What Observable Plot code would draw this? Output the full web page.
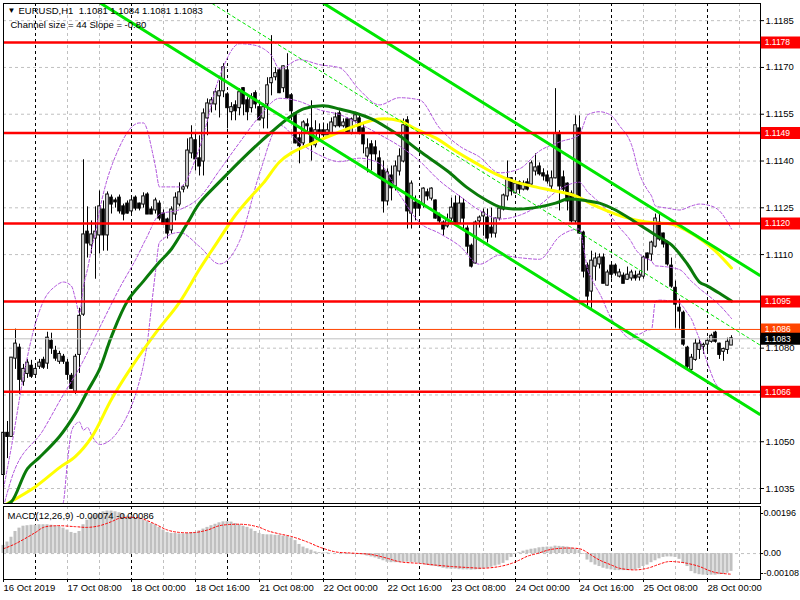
<!DOCTYPE html>
<html>
<head>
<meta charset="utf-8">
<script src="https://cdn.jsdelivr.net/npm/d3@7"></script>
<script src="https://cdn.jsdelivr.net/npm/@observablehq/plot@0.6"></script>
<style>
  html, body { margin: 0; padding: 0; background: #ffffff; }
  #chart { position: relative; width: 800px; height: 600px; overflow: hidden; background: #ffffff; }
  #chart svg { position: absolute; left: 0; }
</style>
</head>
<body>
<div id="chart"></div>
<script>
// ---------- DATA (EURUSD H1, bar index 0 = 16 Oct 2019 16:00) ----------
const opens = [1.10395,1.10527,1.10517,1.10768,1.10800,1.10694,1.10719,1.10742,1.10716,1.10742,
1.10761,1.10752,1.10822,1.10790,1.10758,1.10771,1.10752,1.10710,1.10662,1.10780,
1.10909,1.11172,1.11131,1.11153,1.11163,1.11243,1.11163,1.11281,1.11272,1.11281,
1.11253,1.11262,1.11240,1.11281,1.11262,1.11262,1.11291,1.11243,1.11243,1.11262,
1.11230,1.11211,1.11179,1.11230,1.11262,1.11310,1.11320,1.11426,1.11465,1.11407,
1.11400,1.11538,1.11583,1.11583,1.11609,1.11625,1.11612,1.11558,1.11577,1.11571,
1.11632,1.11593,1.11571,1.11616,1.11571,1.11538,1.11583,1.11651,1.11670,1.11689,
1.11635,1.11689,1.11609,1.11551,1.11471,1.11458,1.11516,1.11503,1.11452,1.11497,
1.11497,1.11484,1.11487,1.11513,1.11551,1.11513,1.11532,1.11490,1.11529,1.11535,
1.11503,1.11416,1.11452,1.11442,1.11407,1.11368,1.11272,1.11352,1.11320,1.11368,
1.11400,1.11529,1.11233,1.11265,1.11262,1.11262,1.11298,1.11281,1.11272,1.11224,
1.11201,1.11192,1.11217,1.11262,1.11201,1.11262,1.11182,1.11127,1.11073,1.11208,
1.11224,1.11217,1.11185,1.11169,1.11217,1.11246,1.11288,1.11343,1.11298,1.11330,
1.11310,1.11330,1.11326,1.11368,1.11381,1.11359,1.11352,1.11320,1.11346,1.11487,
1.11346,1.11326,1.11294,1.11208,1.11503,1.11169,1.11063,1.10983,1.11063,1.11070,
1.11089,1.11002,1.11063,1.11063,1.11031,1.11031,1.11021,1.11025,1.11031,1.11028,
1.11031,1.11102,1.11102,1.11127,1.11201,1.11166,1.11137,1.11063,1.10992,1.10928,
1.10912,1.10800,1.10732,1.10764,1.10796,1.10806,1.10813,1.10822,1.10848,1.10813,
1.10790,1.10796,1.10810];
const highs = [1.10533,1.10565,1.10768,1.10861,1.10813,1.10748,1.10764,1.10761,1.10748,1.10764,
1.10771,1.10851,1.10848,1.10806,1.10790,1.10780,1.10764,1.10719,1.10780,1.10928,
1.11404,1.11253,1.11208,1.11253,1.11304,1.11272,1.11301,1.11291,1.11281,1.11291,
1.11262,1.11272,1.11281,1.11288,1.11265,1.11298,1.11298,1.11253,1.11281,1.11272,
1.11243,1.11217,1.11253,1.11298,1.11330,1.11320,1.11471,1.11513,1.11487,1.11481,
1.11567,1.11599,1.11603,1.11632,1.11657,1.11712,1.11619,1.11587,1.11593,1.11632,
1.11635,1.11603,1.11616,1.11625,1.11593,1.11583,1.11667,1.11802,1.11699,1.11696,
1.11705,1.11744,1.11616,1.11554,1.11487,1.11529,1.11535,1.11593,1.11529,1.11519,
1.11522,1.11519,1.11538,1.11554,1.11561,1.11535,1.11538,1.11538,1.11551,1.11545,
1.11519,1.11471,1.11465,1.11465,1.11432,1.11400,1.11375,1.11384,1.11400,1.11439,
1.11535,1.11542,1.11336,1.11288,1.11272,1.11314,1.11310,1.11314,1.11275,1.11233,
1.11208,1.11230,1.11281,1.11288,1.11288,1.11278,1.11192,1.11134,1.11208,1.11224,
1.11246,1.11246,1.11249,1.11217,1.11249,1.11294,1.11400,1.11346,1.11336,1.11336,
1.11336,1.11343,1.11400,1.11423,1.11394,1.11375,1.11368,1.11368,1.11632,1.11497,
1.11368,1.11330,1.11304,1.11545,1.11545,1.11175,1.11073,1.11111,1.11105,1.11102,
1.11102,1.11050,1.11070,1.11070,1.11053,1.11041,1.11060,1.11050,1.11047,1.11047,
1.11095,1.11105,1.11143,1.11230,1.11230,1.11169,1.11143,1.11089,1.11015,1.10957,
1.10919,1.10806,1.10780,1.10829,1.10829,1.10816,1.10832,1.10845,1.10854,1.10816,
1.10800,1.10832,1.10840];
const lows = [1.10385,1.10446,1.10517,1.10732,1.10652,1.10678,1.10703,1.10703,1.10710,1.10732,
1.10732,1.10732,1.10780,1.10758,1.10748,1.10748,1.10697,1.10668,1.10652,1.10719,
1.10902,1.11089,1.11102,1.11021,1.11102,1.11111,1.11111,1.11230,1.11249,1.11230,
1.11208,1.11230,1.11230,1.11240,1.11240,1.11249,1.11230,1.11230,1.11230,1.11208,
1.11198,1.11150,1.11166,1.11208,1.11253,1.11298,1.11310,1.11407,1.11368,1.11352,
1.11352,1.11481,1.11554,1.11561,1.11538,1.11603,1.11503,1.11529,1.11529,1.11545,
1.11545,1.11529,1.11554,1.11567,1.11529,1.11503,1.11503,1.11609,1.11657,1.11616,
1.11619,1.11599,1.11529,1.11455,1.11391,1.11449,1.11490,1.11400,1.11442,1.11471,
1.11465,1.11481,1.11481,1.11506,1.11506,1.11506,1.11487,1.11484,1.11522,1.11484,
1.11423,1.11362,1.11368,1.11400,1.11343,1.11233,1.11256,1.11272,1.11304,1.11352,
1.11394,1.11182,1.11182,1.11208,1.11224,1.11249,1.11272,1.11272,1.11214,1.11198,
1.11159,1.11185,1.11198,1.11198,1.11198,1.11175,1.11102,1.11057,1.11070,1.11185,
1.11159,1.11137,1.11153,1.11153,1.11208,1.11240,1.11272,1.11288,1.11294,1.11294,
1.11304,1.11304,1.11320,1.11352,1.11352,1.11336,1.11326,1.11304,1.11343,1.11240,
1.11298,1.11240,1.11201,1.11198,1.11166,1.11025,1.10928,1.10928,1.11015,1.11054,
1.11008,1.10999,1.11021,1.11031,1.11025,1.11008,1.11018,1.11015,1.11015,1.11015,
1.11021,1.11047,1.11079,1.11121,1.11143,1.11121,1.11063,1.10992,1.10864,1.10861,
1.10806,1.10732,1.10726,1.10758,1.10764,1.10780,1.10780,1.10816,1.10816,1.10764,
1.10758,1.10780,1.10810];
const closes = [1.10527,1.10517,1.10768,1.10813,1.10700,1.10732,1.10752,1.10710,1.10732,1.10752,
1.10739,1.10832,1.10800,1.10768,1.10780,1.10758,1.10716,1.10671,1.10771,1.10902,
1.11163,1.11137,1.11163,1.11172,1.11253,1.11163,1.11291,1.11262,1.11269,1.11240,
1.11230,1.11233,1.11272,1.11249,1.11249,1.11285,1.11230,1.11230,1.11272,1.11217,
1.11198,1.11169,1.11243,1.11281,1.11298,1.11314,1.11432,1.11471,1.11407,1.11384,
1.11551,1.11583,1.11593,1.11619,1.11622,1.11699,1.11571,1.11571,1.11561,1.11619,
1.11583,1.11558,1.11603,1.11583,1.11532,1.11571,1.11641,1.11664,1.11680,1.11619,
1.11702,1.11603,1.11561,1.11458,1.11449,1.11522,1.11513,1.11458,1.11497,1.11493,
1.11484,1.11497,1.11522,1.11538,1.11513,1.11522,1.11490,1.11532,1.11545,1.11490,
1.11455,1.11439,1.11423,1.11423,1.11352,1.11272,1.11362,1.11314,1.11381,1.11413,
1.11513,1.11240,1.11326,1.11249,1.11249,1.11310,1.11288,1.11310,1.11217,1.11208,
1.11182,1.11208,1.11249,1.11198,1.11262,1.11217,1.11127,1.11063,1.11201,1.11217,
1.11233,1.11153,1.11169,1.11214,1.11246,1.11288,1.11343,1.11304,1.11326,1.11310,
1.11326,1.11310,1.11391,1.11378,1.11359,1.11352,1.11336,1.11343,1.11487,1.11320,
1.11310,1.11272,1.11208,1.11513,1.11169,1.11047,1.10967,1.11079,1.11086,1.11089,
1.11008,1.11041,1.11037,1.11041,1.11041,1.11008,1.11034,1.11041,1.11025,1.11034,
1.11089,1.11089,1.11137,1.11214,1.11150,1.11134,1.11070,1.10999,1.10941,1.10919,
1.10813,1.10742,1.10768,1.10813,1.10813,1.10809,1.10822,1.10838,1.10822,1.10780,
1.10796,1.10819,1.10830];

// Moving averages (bar index, price)
const maGreenIdx = [0,2,6,9,14,18,21,24,27,31,35,39,42,46,49,54,61,67,72,75,80,84,88,92,96,99,104,111,116,121,124,129,134,138,141,146,149,153,158,163,167,171,174,176,179,182];
const maGreenVal = [1.10295,1.10308,1.10414,1.10450,1.10517,1.10591,1.10662,1.10732,1.10838,1.10951,1.11015,1.11076,1.11118,1.11201,1.11265,1.11333,1.11423,1.11493,1.11545,1.11567,1.11577,1.11567,1.11554,1.11535,1.11506,1.11481,1.11432,1.11368,1.11314,1.11272,1.11253,1.11246,1.11253,1.11265,1.11278,1.11272,1.11265,1.11243,1.11204,1.11163,1.11131,1.11069,1.11012,1.10999,1.10976,1.10951];
const maYellowIdx = [0,8,14,18,22,27,32,38,44,49,53,58,62,65,69,72,78,84,90,94,99,103,108,113,118,123,128,133,138,143,148,153,158,163,167,171,175,178,182];
const maYellowVal = [1.10295,1.10356,1.10417,1.10453,1.10514,1.10636,1.10739,1.10848,1.10947,1.11053,1.11131,1.11227,1.11288,1.11330,1.11397,1.11426,1.11461,1.11493,1.11522,1.11535,1.11529,1.11503,1.11474,1.11432,1.11394,1.11359,1.11333,1.11317,1.11304,1.11288,1.11256,1.11230,1.11211,1.11201,1.11198,1.11175,1.11143,1.11111,1.11057];

// Bands (purple dashed): upper, middle, lower (bar index, price)
const bandUpperIdx = [0,2,5,8,10,13,15,17,18,19,20,21,22,23,24,29,34,35,36,37,38,39,44,49,54,59,62,65,67,69,74,79,84,89,94,99,104,109,114,119,124,129,134,139,144,145,146,149,152,154,157,159,161,162,163,166,169,172,174,176,179,182];
const bandUpperVal = [1.10350,1.10485,1.10710,1.10880,1.10951,1.10999,1.11012,1.10999,1.10957,1.10912,1.10999,1.11053,1.11118,1.11172,1.11240,1.11445,1.11522,1.11522,1.11497,1.11442,1.11381,1.11317,1.11317,1.11442,1.11670,1.11776,1.11773,1.11760,1.11738,1.11696,1.11725,1.11709,1.11699,1.11628,1.11580,1.11603,1.11596,1.11506,1.11448,1.11413,1.11362,1.11375,1.11432,1.11461,1.11484,1.11516,1.11548,1.11558,1.11545,1.11513,1.11452,1.11359,1.11307,1.11288,1.11256,1.11249,1.11243,1.11256,1.11262,1.11259,1.11240,1.11182];
const bandMidIdx = [0,2,10,15,19,24,29,34,35,36,37,38,39,44,49,54,59,64,69,74,79,84,89,94,99,104,109,114,119,124,129,134,139,144,145,146,147,148,149,152,154,157,158,159,160,162,163,164,169,170,171,172,173,174,176,179,182];
const bandMidVal = [1.10292,1.10382,1.10539,1.10652,1.10737,1.10865,1.10992,1.11108,1.11135,1.11160,1.11188,1.11213,1.11229,1.11244,1.11283,1.11370,1.11459,1.11543,1.11601,1.11591,1.11564,1.11549,1.11519,1.11485,1.11448,1.11400,1.11337,1.11288,1.11242,1.11214,1.11226,1.11259,1.11309,1.11332,1.11320,1.11301,1.11290,1.11278,1.11267,1.11220,1.11187,1.11140,1.11117,1.11102,1.11091,1.11079,1.11064,1.11063,1.11052,1.11043,1.11028,1.11014,1.11003,1.10991,1.10971,1.10938,1.10895];
const bandLowerIdx = [13,15,16,17,18,19,20,21,22,23,24,29,34,35,36,37,38,39,44,49,54,59,64,69,74,79,84,89,94,99,104,109,114,119,124,129,134,139,144,145,146,147,148,149,152,154,157,158,159,160,161,162,163,164,169,170,171,172,173,174,176,178,180,182];
const bandLowerVal = [1.10244,1.10308,1.10437,1.10533,1.10556,1.10563,1.10537,1.10546,1.10521,1.10502,1.10491,1.10540,1.10695,1.10747,1.10822,1.10935,1.11045,1.11140,1.11171,1.11126,1.11070,1.11143,1.11359,1.11515,1.11459,1.11419,1.11398,1.11409,1.11392,1.11293,1.11203,1.11168,1.11128,1.11069,1.11098,1.11090,1.11085,1.11158,1.11182,1.11125,1.11053,1.11024,1.10998,1.10976,1.10894,1.10862,1.10828,1.10845,1.10845,1.10852,1.10858,1.10860,1.10951,1.10954,1.10944,1.10931,1.10912,1.10893,1.10861,1.10829,1.10752,1.10687,1.10662,1.10649];

// Regression channel (size 44 pips, slope -0.80 pip/bar), end points
const channelIdx = [0, 189];
const channelUpper = [1.12546, 1.11034];
const channelMid = [1.12322, 1.10811];
const channelLower = [1.12100, 1.10588];

// Horizontal levels
const redLevels = [1.1178, 1.1149, 1.1120, 1.1095, 1.1066];
const orangeLevel = [1.1086];
const bidLevel = [1.1083];

// Axis ticks
const priceGrid = [1.1035,1.1050,1.1065,1.1080,1.1095,1.1110,1.1125,1.1140,1.1155,1.1170,1.1185];
const priceLabels = [1.1035,1.1050,1.1080,1.1110,1.1125,1.1140,1.1155,1.1170,1.1185];
const timeTicks = [0,16,32,48,64,80,96,112,128,144,160,176];
const timeLabels = ["16 Oct 2019","17 Oct 08:00","18 Oct 00:00","18 Oct 16:00","21 Oct 08:00","22 Oct 00:00","22 Oct 16:00","23 Oct 08:00","24 Oct 00:00","24 Oct 16:00","25 Oct 08:00","28 Oct 00:00"];
const gridBars = [8,16,24,32,40,48,56,64,72,80,88,96,104,112,120,128,136,144,152,160,168,176,184];
const daySeparators = [8,32,56,80,104,128,152,176];

// MACD(12,26,9)
const macdMain = [0.00034,0.00048,0.00068,0.00092,0.00106,0.00114,0.00116,0.00118,0.00118,0.00120,
0.00120,0.00120,0.00118,0.00114,0.00112,0.00106,0.00098,0.00088,0.00084,0.00092,
0.00120,0.00139,0.00152,0.00160,0.00166,0.00174,0.00177,0.00177,0.00174,0.00170,
0.00163,0.00156,0.00152,0.00147,0.00143,0.00139,0.00133,0.00125,0.00120,0.00109,
0.00098,0.00088,0.00084,0.00084,0.00082,0.00082,0.00084,0.00087,0.00088,0.00095,
0.00102,0.00109,0.00116,0.00122,0.00128,0.00132,0.00133,0.00131,0.00125,0.00120,
0.00114,0.00109,0.00102,0.00092,0.00084,0.00079,0.00078,0.00078,0.00076,0.00076,
0.00073,0.00071,0.00065,0.00054,0.00038,0.00027,0.00020,0.00014,0.00007,0.00004,
0.00003,0.00003,0.00001,0.00000,0.00000,-0.00001,-0.00001,-0.00001,-0.00001,-0.00003,
-0.00005,-0.00010,-0.00014,-0.00018,-0.00024,-0.00030,-0.00036,-0.00038,-0.00038,-0.00038,
-0.00036,-0.00036,-0.00037,-0.00038,-0.00041,-0.00045,-0.00049,-0.00052,-0.00054,-0.00057,
-0.00061,-0.00064,-0.00065,-0.00065,-0.00067,-0.00068,-0.00068,-0.00069,-0.00068,-0.00067,
-0.00064,-0.00061,-0.00057,-0.00052,-0.00048,-0.00041,-0.00030,-0.00016,-0.00003,0.00004,
0.00010,0.00014,0.00018,0.00020,0.00024,0.00026,0.00027,0.00027,0.00031,0.00030,
0.00029,0.00027,0.00024,0.00019,0.00014,-0.00003,-0.00027,-0.00038,-0.00048,-0.00054,
-0.00061,-0.00065,-0.00068,-0.00071,-0.00071,-0.00071,-0.00071,-0.00069,-0.00068,-0.00063,
-0.00054,-0.00048,-0.00038,-0.00030,-0.00022,-0.00016,-0.00014,-0.00014,-0.00016,-0.00024,
-0.00041,-0.00054,-0.00075,-0.00084,-0.00088,-0.00090,-0.00090,-0.00090,-0.00090,-0.00088,
-0.00087,-0.00082,-0.00074];
const signalIdx = [0,3,8,10,13,18,21,24,27,29,33,35,38,41,44,48,51,54,58,61,64,66,69,72,76,79,83,86,89,92,96,99,104,108,112,116,120,124,127,129,131,134,136,138,141,144,145,147,149,152,154,158,161,164,166,168,171,174,176,178,182];
const signalVal = [0.00020,0.00041,0.00088,0.00109,0.00116,0.00112,0.00109,0.00116,0.00133,0.00147,0.00150,0.00143,0.00122,0.00098,0.00088,0.00088,0.00098,0.00116,0.00122,0.00120,0.00109,0.00095,0.00082,0.00071,0.00048,0.00027,0.00007,0.00003,0.00000,-0.00004,-0.00020,-0.00034,-0.00041,-0.00048,-0.00054,-0.00058,-0.00061,-0.00054,-0.00041,-0.00027,-0.00011,0.00003,0.00014,0.00020,0.00023,0.00020,0.00014,-0.00007,-0.00027,-0.00048,-0.00061,-0.00068,-0.00061,-0.00044,-0.00034,-0.00034,-0.00041,-0.00054,-0.00068,-0.00079,-0.00086];
const macdTicks = [0.00196, 0, -0.00108];
const macdTickLabels = ["0.00196", "0.00", "-0.00108"];

// ---------- BUILD ----------
const FONT = "'Liberation Sans', Arial, Helvetica, sans-serif";
const FS = 9.5;
const X_DOMAIN = [0, 189.25];
const candles = closes.map((c, i) => ({i, o: opens[i], h: highs[i], l: lows[i], c}));
const bulls = candles.filter(d => d.c >= d.o);
const bears = candles.filter(d => d.c < d.o);
const pairs = (xs, ys) => xs.map((x, k) => [x, ys[k]]);
const plainGrid = gridBars.filter(d => !daySeparators.includes(d));
const BAND = "#b052dc";
const bandStyle = {x: d => d[0], y: d => d[1], stroke: BAND, strokeWidth: 1, strokeDasharray: "3,2", curve: "monotone-x", clip: true};

const main = Plot.plot({
  width: 800, height: 506,
  marginTop: 3, marginBottom: 3, marginLeft: 3, marginRight: 40,
  x: {domain: X_DOMAIN, axis: null},
  y: {domain: [1.10302, 1.11905], axis: null},
  style: {background: "transparent", fontFamily: FONT, fontSize: FS + "px", overflow: "visible"},
  marks: [
    Plot.ruleY(priceGrid, {stroke: "#c0c0c0", strokeDasharray: "3,3"}),
    Plot.ruleX(plainGrid, {stroke: "#c0c0c0", strokeDasharray: "3,3"}),
    Plot.ruleX(daySeparators, {stroke: "#000000", strokeDasharray: "3,3"}),
    // candles
    Plot.ruleX(candles, {x: "i", y1: "l", y2: "h", stroke: "#000000", strokeWidth: 1}),
    Plot.rect(bulls, {x1: d => d.i - 0.32, x2: d => d.i + 0.32, y1: "o", y2: "c", fill: "#ffffff", stroke: "#000000", strokeWidth: 1, insetTop: -0.5, insetBottom: -0.5}),
    Plot.rect(bears, {x1: d => d.i - 0.32, x2: d => d.i + 0.32, y1: "o", y2: "c", fill: "#000000", stroke: "#000000", strokeWidth: 1, insetTop: -0.5, insetBottom: -0.5}),
    // bands
    Plot.line(pairs(bandUpperIdx, bandUpperVal), bandStyle),
    Plot.line(pairs(bandMidIdx, bandMidVal), bandStyle),
    Plot.line(pairs(bandLowerIdx, bandLowerVal), bandStyle),
    // moving averages
    Plot.line(pairs(maYellowIdx, maYellowVal), {x: d => d[0], y: d => d[1], stroke: "#ffff00", strokeWidth: 3, curve: "catmull-rom", clip: true}),
    Plot.line(pairs(maGreenIdx, maGreenVal), {x: d => d[0], y: d => d[1], stroke: "#0a7a0a", strokeWidth: 3, curve: "catmull-rom", clip: true}),
    // channel
    Plot.line(pairs(channelIdx, channelUpper), {x: d => d[0], y: d => d[1], stroke: "#00e600", strokeWidth: 3, clip: true}),
    Plot.line(pairs(channelIdx, channelLower), {x: d => d[0], y: d => d[1], stroke: "#00e600", strokeWidth: 3, clip: true}),
    Plot.line(pairs(channelIdx, channelMid), {x: d => d[0], y: d => d[1], stroke: "#00e600", strokeWidth: 1, strokeDasharray: "3,3", clip: true}),
    // horizontal levels
    Plot.ruleY(bidLevel, {stroke: "#c0c0c0", strokeWidth: 1}),
    Plot.ruleY(orangeLevel, {stroke: "#ff4500", strokeWidth: 1}),
    Plot.ruleY(redLevels, {stroke: "#ff0000", strokeWidth: 2.5}),
    Plot.frame({stroke: "#000000"}),
    // right price axis
    Plot.axisY(priceLabels, {anchor: "right", tickFormat: d => d.toFixed(4), tickSize: 3, tickPadding: 2, fontSize: FS, label: null}),
    // level labels
    Plot.ruleY(redLevels, {x1: 189.45, x2: 199.5, stroke: "#ff0000", strokeWidth: 12}),
    Plot.ruleY(orangeLevel, {x1: 189.45, x2: 199.5, stroke: "#ff4500", strokeWidth: 12}),
    Plot.ruleY(bidLevel, {x1: 189.45, x2: 199.5, stroke: "#000000", strokeWidth: 12}),
    Plot.text(redLevels.concat(orangeLevel, bidLevel), {x: 190.3, y: d => d, text: d => d.toFixed(4), fill: "#ffffff", textAnchor: "start", fontSize: 8.5}),
    // header
    Plot.text(["\u25BC"], {frameAnchor: "top-left", dx: 4, dy: 7, lineAnchor: "middle", textAnchor: "start", fontSize: 8, fill: "#000000"}),
    Plot.text(["EURUSD,H1\u00A0\u00A01.1081 1.1084 1.1081 1.1083"], {frameAnchor: "top-left", dx: 15, dy: 7, lineAnchor: "middle", textAnchor: "start", fontSize: FS, fill: "#000000"}),
    Plot.text(["Channel size = 44 Slope = -0.80"], {frameAnchor: "top-left", dx: 7, dy: 21, lineAnchor: "middle", textAnchor: "start", fontSize: FS, fill: "#000000"})
  ]
});
main.style.top = "0px";

const macd = Plot.plot({
  width: 800, height: 100,
  marginTop: 6, marginBottom: 21, marginLeft: 3, marginRight: 40,
  x: {domain: X_DOMAIN, axis: null},
  y: {domain: [-0.00108, 0.00196], axis: null},
  style: {background: "transparent", fontFamily: FONT, fontSize: FS + "px", overflow: "visible"},
  marks: [
    Plot.ruleX(plainGrid, {stroke: "#c0c0c0", strokeDasharray: "3,3"}),
    Plot.ruleX(daySeparators, {stroke: "#000000", strokeDasharray: "3,3"}),
    Plot.ruleY([0], {stroke: "#c0c0c0", strokeDasharray: "3,3"}),
    Plot.rect(macdMain.map((v, i) => ({i, v})), {x1: d => d.i - 0.38, x2: d => d.i + 0.38, y1: 0, y2: "v", fill: "#c0c0c0"}),
    Plot.line(pairs(signalIdx, signalVal), {x: d => d[0], y: d => d[1], stroke: "#ff0000", strokeWidth: 1, strokeDasharray: "2,2", curve: "catmull-rom"}),
    Plot.frame({stroke: "#000000"}),
    Plot.axisY([macdTicks[0]], {anchor: "right", tickFormat: () => macdTickLabels[0], tickSize: 2, tickPadding: 1, fontSize: 9, label: null, dy: 7}),
    Plot.axisY([macdTicks[1]], {anchor: "right", tickFormat: () => macdTickLabels[1], tickSize: 2, tickPadding: 1, fontSize: 9, label: null}),
    Plot.axisY([macdTicks[2]], {anchor: "right", tickFormat: () => macdTickLabels[2], tickSize: 2, tickPadding: 1, fontSize: 9, label: null, dy: -6}),
    Plot.axisX(timeTicks, {anchor: "bottom", tickFormat: d => timeLabels[timeTicks.indexOf(d)], tickSize: 3, tickPadding: 2, textAnchor: "start", fontSize: FS, label: null}),
    Plot.text(["MACD(12,26,9) -0.00074 -0.00086"], {frameAnchor: "top-left", dx: 4, dy: 9, lineAnchor: "middle", textAnchor: "start", fontSize: FS, fill: "#000000"})
  ]
});
macd.style.top = "500px";

const host = document.getElementById("chart");
host.appendChild(main);
host.appendChild(macd);
</script>
</body>
</html>
